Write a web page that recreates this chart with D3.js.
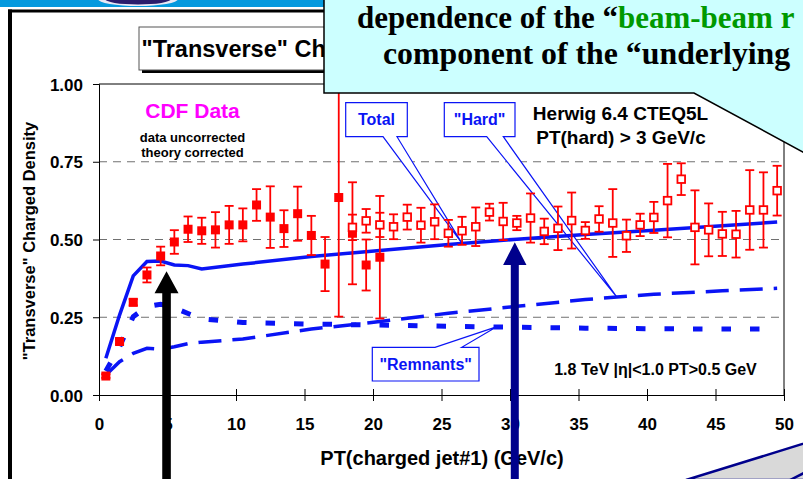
<!DOCTYPE html>
<html><head><meta charset="utf-8">
<script src="https://cdn.jsdelivr.net/npm/d3@7/dist/d3.min.js"></script>
<style>
body{margin:0;background:#fff}
svg{display:block}
text{font-family:"Liberation Sans",Arial,sans-serif;font-weight:bold}
text.serif{font-family:"Liberation Serif","Times New Roman",serif}
</style>
</head><body><svg id="c" width="803" height="479"></svg>
<script>
// ---- data ----
const filledX   = [0.5,1.5,2.5,3.5,4.5,5.5,6.5,7.5,8.5,9.5,10.5,11.5,12.5,13.5,14.5,15.5,16.5,17.5,18.5,19.5,20.5];
const filledY   = [0.061,0.172,0.298,0.386,0.447,0.492,0.533,0.528,0.531,0.547,0.547,0.611,0.572,0.535,0.583,0.513,0.421,0.635,0.520,0.418,0.443];
const filledErr = [0.006,0.008,0.010,0.024,0.030,0.038,0.041,0.042,0.057,0.061,0.053,0.051,0.099,0.059,0.087,0.063,0.087,0.383,0.164,0.082,0.197];
const openX   = [18.5,19.5,20.5,21.5,22.5,23.5,24.5,25.5,26.5,27.5,28.5,29.5,30.5,31.5,32.5,33.5,34.5,35.5,36.5,37.5,38.5,39.5,40.5,41.5,42.5,43.5,44.5,45.5,46.5,47.5,48.5,49.5];
const openY   = [0.539,0.560,0.547,0.541,0.572,0.546,0.557,0.520,0.528,0.541,0.588,0.558,0.553,0.569,0.526,0.536,0.561,0.529,0.566,0.553,0.512,0.547,0.571,0.625,0.694,0.539,0.531,0.518,0.517,0.595,0.595,0.657];
const openErr = [0.041,0.038,0.039,0.040,0.040,0.056,0.056,0.043,0.045,0.062,0.027,0.060,0.023,0.079,0.041,0.070,0.090,0.027,0.041,0.109,0.052,0.036,0.050,0.118,0.051,0.119,0.085,0.071,0.075,0.128,0.121,0.080];
const curveX   = [0.5,1.5,2.5,3.5,4.5,5.5,6.5,7.5,10.5,15.5,20.5,25.5,30.5,35.5,40.5,45.5,49.5];
const totalY   = [0.118,0.257,0.383,0.429,0.431,0.418,0.416,0.405,0.421,0.445,0.465,0.484,0.501,0.516,0.530,0.544,0.556];
const hardY    = [0.064,0.107,0.134,0.150,0.147,0.155,0.165,0.170,0.180,0.212,0.236,0.263,0.285,0.307,0.324,0.335,0.343];
const remnantY = [0.077,0.155,0.252,0.284,0.292,0.280,0.262,0.245,0.233,0.228,0.225,0.221,0.218,0.215,0.213,0.212,0.212];
const xTicks = [0,5,10,15,20,25,30,35,40,45,50];
const yTicks = [0,0.25,0.5,0.75,1];
const yGrid  = [0.25,0.5,0.75];

const svg = d3.select("#c");
const BLUE = "#0a14f5", RED = "#ff0000", NAVY = "#00008c";
svg.append("rect").attr("width",803).attr("height",479).attr("fill","#fff");

// slide decorations
svg.append("rect").attr("x",0).attr("y",0).attr("width",330).attr("height",7).attr("fill","#0499de");
svg.append("ellipse").attr("cx",138).attr("cy",-1).attr("rx",40).attr("ry",7).attr("fill","#e8e8f4");
svg.append("ellipse").attr("cx",138).attr("cy",-1).attr("rx",33).attr("ry",5.5).attr("fill","#2a1c6c");
svg.append("rect").attr("x",8).attr("y",9.5).attr("width",4).attr("height",470).attr("fill","#000");
svg.append("rect").attr("x",8).attr("y",9.5).attr("width",330).attr("height",3).attr("fill","#000");

// title box
svg.append("rect").attr("x",142).attr("y",30).attr("width",260).attr("height",43).attr("fill","#000");
svg.append("rect").attr("x",139).attr("y",27).attr("width",260).attr("height",43).attr("fill","#fff").attr("stroke","#555").attr("stroke-width",1);
svg.append("text").attr("x",141.5).attr("y",56.5).attr("font-size",23.5).attr("fill","#000").text('"Transverse" Ch');

// scales
const x = d3.scaleLinear().domain([0,50]).range([99,784]);
const y = d3.scaleLinear().domain([0,1]).range([395,84]);

// grid
svg.append("g").selectAll("line").data(yGrid).join("line")
  .attr("x1",x(0)).attr("x2",x(50)).attr("y1",d=>y(d)).attr("y2",d=>y(d))
  .attr("stroke","#707070").attr("stroke-width",1).attr("stroke-dasharray","8,6");

// frame
svg.append("line").attr("x1",x(0)).attr("x2",x(50)).attr("y1",y(1)).attr("y2",y(1)).attr("stroke","#000");
svg.append("line").attr("x1",x(50)).attr("x2",x(50)).attr("y1",y(1)).attr("y2",y(0)).attr("stroke","#000");

// axes
const ya = svg.append("g").attr("transform",`translate(${x(0)},0)`)
  .call(d3.axisLeft(y).tickValues(yTicks).tickFormat(d3.format(".2f")).tickSizeOuter(0).tickSize(6));
ya.select(".domain").attr("stroke","#000");
ya.selectAll(".tick text").attr("x",-16).attr("dy","0.36em").attr("font-size",17).attr("font-family",null).attr("fill","#000");
ya.selectAll(".tick line").attr("stroke","#000");

const xa = svg.append("g").attr("transform",`translate(0,${y(0)})`)
  .call(d3.axisBottom(x).tickValues(xTicks).tickSizeOuter(0).tickSize(6));
xa.select(".domain").attr("stroke","#000");
xa.selectAll(".tick line").attr("y1",-6).attr("y2",6).attr("stroke","#000");
xa.selectAll(".tick text").attr("y",35).attr("dy",0).attr("font-size",17).attr("font-family",null).attr("fill","#000");

svg.append("text").attr("x",442).attr("y",465).attr("text-anchor","middle").attr("font-size",20).text("PT(charged jet#1)  (GeV/c)");
svg.append("text").attr("transform","translate(35,241) rotate(-90)").attr("text-anchor","middle").attr("font-size",16.5).text('"Transverse" Charged Density');

// annotations text
svg.append("text").attr("x",192.5).attr("y",118).attr("text-anchor","middle").attr("font-size",21).attr("fill","#ff00ff").text("CDF Data");
svg.append("text").attr("x",192.5).attr("y",141.5).attr("text-anchor","middle").attr("font-size",13).text("data uncorrected");
svg.append("text").attr("x",192.5).attr("y",157).attr("text-anchor","middle").attr("font-size",13).text("theory corrected");
svg.append("text").attr("x",620.5).attr("y",119.5).attr("text-anchor","middle").attr("font-size",19).text("Herwig 6.4 CTEQ5L");
svg.append("text").attr("x",621).attr("y",143.5).attr("text-anchor","middle").attr("font-size",19).text("PT(hard) > 3 GeV/c");
svg.append("text").attr("x",655.5).attr("y",375).attr("text-anchor","middle").attr("font-size",16).text("1.8 TeV |η|<1.0 PT>0.5 GeV");

// callout boxes
function interp(xs, ys, v){ return d3.scaleLinear().domain(xs).range(ys)(v); }
function callout(bx,by,bw,bh,w1,w2,tip,label,up){
  let p;
  if(!up){
    p = `M${bx},${by}H${bx+bw}V${by+bh}H${w2}L${tip[0]},${tip[1]}L${w1},${by+bh}H${bx}Z`;
  } else {
    p = `M${bx},${by}H${w1}L${tip[0]},${tip[1]}L${w2},${by}H${bx+bw}V${by+bh}H${bx}Z`;
  }
  svg.append("path").attr("d",p).attr("fill","#fff").attr("stroke",BLUE).attr("stroke-width",1.2);
  svg.append("text").attr("x",bx+bw/2).attr("y",by+bh/2+5.5).attr("text-anchor","middle").attr("font-size",16).attr("fill",BLUE).text(label);
}
callout(345.7,102.7,61.6,34,383,397,[x(26.5),y(interp(curveX,totalY,26.5))],"Total",false);
callout(444.3,102.7,70.7,34,486.7,503.3,[x(37.8),y(interp(curveX,hardY,37.8))],'"Hard"',false);
callout(372.3,347.3,106.7,33.7,435,461.7,[x(29.0),y(interp(curveX,remnantY,29.0))],'"Remnants"',true);

// curves
const line = d3.line().x((d,i)=>x(curveX[i])).y(d=>y(d));
svg.append("path").attr("d",line(totalY)).attr("fill","none").attr("stroke",BLUE).attr("stroke-width",3.5);
svg.append("path").attr("d",line(hardY)).attr("fill","none").attr("stroke",BLUE).attr("stroke-width",3.5).attr("stroke-dasharray","23,11");
svg.append("path").attr("d",line(remnantY)).attr("fill","none").attr("stroke",BLUE).attr("stroke-width",5).attr("stroke-dasharray","9.5,19");

// error bars + markers
svg.append("clipPath").attr("id","pc").append("rect").attr("x",x(0)).attr("y",y(1)).attr("width",x(50)-x(0)).attr("height",y(0)-y(1));
const eb = svg.append("g").attr("clip-path","url(#pc)").attr("stroke",RED).attr("stroke-width",1.8);
function errs(xs,ys,es){
  xs.forEach((xv,i)=>{
    const cx=x(xv), y1=y(ys[i]+es[i]), y2=y(ys[i]-es[i]);
    eb.append("line").attr("x1",cx).attr("x2",cx).attr("y1",y1).attr("y2",y2);
    eb.append("line").attr("x1",cx-4.5).attr("x2",cx+4.5).attr("y1",y1).attr("y2",y1);
    eb.append("line").attr("x1",cx-4.5).attr("x2",cx+4.5).attr("y1",y2).attr("y2",y2);
  });
}
errs(filledX,filledY,filledErr);
errs(openX,openY,openErr);
svg.append("g").selectAll("rect").data(filledX).join("rect")
  .attr("x",d=>x(d)-4.5).attr("y",(d,i)=>y(filledY[i])-4.5).attr("width",9).attr("height",9).attr("fill",RED);
svg.append("g").selectAll("rect").data(openX).join("rect")
  .attr("x",d=>x(d)-3.8).attr("y",(d,i)=>y(openY[i])-3.8).attr("width",7.6).attr("height",7.6)
  .attr("fill","#fff").attr("stroke",RED).attr("stroke-width",1.8);

// arrows
function arrow(tx,ty,color,hw,hh,sw){
  const p = `M${tx},${ty}L${tx+hw},${ty+hh}H${tx+sw}V480H${tx-sw}V${ty+hh}H${tx-hw}Z`;
  svg.append("path").attr("d",p).attr("fill",color);
}
arrow(x(4.93),y(0.398),"#000",12,22,4.3);
arrow(x(30.35),y(0.491),NAVY,11.7,22.7,4);

// big callout (top right)
svg.append("path").attr("d","M324,-5V93H694L812,157V-5Z").attr("fill","#ccffff").attr("stroke","#000").attr("stroke-width",1.5);
const t1 = svg.append("text").attr("class","serif").attr("x",357).attr("y",28).attr("font-size",31);
t1.append("tspan").attr("fill","#000").text("dependence of the \u201c");
t1.append("tspan").attr("fill","#009900").text("beam-beam r");
svg.append("text").attr("class","serif").attr("x",383).attr("y",63.5).attr("font-size",31.8)
  .text("component of the \u201cunderlying");

// bottom-right shape
svg.append("path").attr("d","M686,480L812,441V480Z").attr("fill","#d9d9d9").attr("stroke",NAVY).attr("stroke-width",2.5);
svg.append("line").attr("x1",790).attr("y1",480).attr("x2",808).attr("y2",471).attr("stroke",NAVY).attr("stroke-width",2.5);
</script></body></html>
